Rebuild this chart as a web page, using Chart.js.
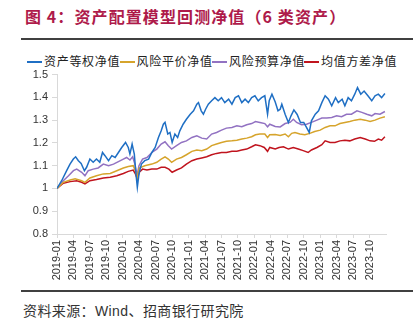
<!DOCTYPE html>
<html><head><meta charset="utf-8">
<script src="https://cdn.jsdelivr.net/npm/chart.js@4.4.0/dist/chart.umd.min.js"></script>
<style>
html,body{margin:0;padding:0;background:#fff;width:419px;height:329px;overflow:hidden;position:relative;}
#title{position:absolute;left:25px;top:6px;font-family:"Noto Sans CJK SC";font-weight:bold;font-size:16px;letter-spacing:1.1px;color:#ae1a4a;white-space:nowrap;line-height:20px;}
.rule{position:absolute;left:21px;width:392px;height:2px;background:#404040;}
#legend{position:absolute;top:53px;left:0;width:419px;height:16px;}
.li{position:absolute;top:0;height:16px;white-space:nowrap;font-family:"Noto Sans CJK SC";font-size:12px;letter-spacing:0.7px;color:#222;line-height:16px;}
.li i{display:inline-block;width:15px;height:2px;vertical-align:middle;margin-right:2px;position:relative;top:-1px;}
#src{position:absolute;left:23px;top:302px;font-family:"Noto Sans CJK SC";font-size:14px;letter-spacing:0.4px;color:#333;white-space:nowrap;line-height:16px;}
#src span{font-family:"Liberation Sans";}
#wrap{position:absolute;left:0;top:64px;width:419px;height:226px;}
</style>
</head><body>
<div id="title">图 4：资产配置模型回测净值（6 类资产）</div>
<div class="rule" style="top:38px"></div>
<div id="legend"></div>
<div id="wrap"><canvas id="c" width="419" height="226"></canvas></div>
<div class="rule" style="top:290px"></div>
<div id="src">资料来源：<span>Wind</span>、招商银行研究院</div>
<script>
// Series names and colours
const seriesNames = ['资产等权净值', '风险平价净值', '风险预算净值', '均值方差净值'];
const seriesColors = ['#1f6fc4', '#d6a42c', '#9272c2', '#c0141e'];

// X positions are months since 2019-01
const xTickLabels = ['2019-01','2019-04','2019-07','2019-10','2020-01','2020-04','2020-07','2020-10',
  '2021-01','2021-04','2021-07','2021-10','2022-01','2022-04','2022-07','2022-10',
  '2023-01','2023-04','2023-07','2023-10'];

// 资产等权净值
const eqMonths = [0,0.85,1.76,2.37,2.98,3.4,3.9,4.4,5.0,5.4,6.0,6.6,7.2,7.8,8.3,8.75,9.4,10.0,10.6,11.2,11.8,12.5,13.0,13.3,13.7,14.1,14.4,14.65,14.95,15.4,16.0,16.7,17.3,17.9,18.5,19.0,19.4,19.7,20.2,20.6,21.0,21.5,22.0,22.4,23.0,23.6,24.3,24.9,25.5,25.8,26.3,26.7,27.1,27.6,28.2,28.8,29.4,30.0,30.6,31.3,31.9,32.5,33.1,33.7,34.3,34.9,35.5,36.1,36.7,37.3,37.9,38.4,38.7,39.2,39.8,40.3,40.7,41.0,41.6,42.2,42.7,43.2,43.8,44.4,45.0,45.5,46.0,46.4,47.1,47.7,48.3,48.9,49.5,50.1,50.8,51.3,52.0,52.5,53.1,53.7,54.3,54.8,55.4,56.0,56.7,57.4,58.0,58.6,59.2,59.8];
const eqValues = [1.000,1.034,1.078,1.107,1.129,1.139,1.122,1.110,1.078,1.093,1.129,1.115,1.129,1.115,1.158,1.144,1.122,1.144,1.136,1.158,1.180,1.202,1.180,1.151,1.195,1.151,1.064,1.005,1.064,1.107,1.122,1.129,1.158,1.180,1.224,1.253,1.282,1.290,1.239,1.246,1.202,1.239,1.224,1.253,1.282,1.304,1.326,1.341,1.370,1.377,1.341,1.326,1.348,1.370,1.385,1.399,1.385,1.399,1.377,1.392,1.370,1.399,1.407,1.377,1.392,1.377,1.399,1.407,1.385,1.399,1.407,1.326,1.385,1.414,1.380,1.341,1.348,1.370,1.326,1.290,1.320,1.345,1.325,1.290,1.290,1.268,1.246,1.297,1.326,1.341,1.377,1.407,1.392,1.363,1.399,1.377,1.392,1.363,1.399,1.385,1.414,1.443,1.414,1.428,1.407,1.385,1.407,1.414,1.399,1.417];

// 风险平价净值
const rpMonths = [0,1.15,2.4,3.3,4.5,5.1,6.0,7.2,8.45,9.7,10.9,12.1,13.0,13.9,14.3,14.65,15.0,16.0,17.3,18.2,19.0,19.7,20.3,20.9,21.8,22.7,23.6,24.6,25.5,26.4,27.3,28.2,29.1,30.0,30.9,31.9,32.8,33.7,34.6,35.5,36.2,37.0,37.9,38.4,38.8,39.8,40.7,41.6,42.2,42.8,43.4,44.3,45.2,46.1,47.0,48.0,48.9,49.8,50.7,51.6,52.5,53.4,54.3,55.3,56.2,57.1,58.0,58.9,59.8];
const rpValues = [1.000,1.027,1.037,1.042,1.034,1.027,1.046,1.056,1.064,1.066,1.078,1.090,1.096,1.100,1.078,1.049,1.090,1.100,1.107,1.115,1.129,1.139,1.129,1.115,1.129,1.136,1.148,1.163,1.169,1.166,1.173,1.188,1.195,1.202,1.207,1.209,1.212,1.217,1.221,1.227,1.236,1.239,1.239,1.224,1.236,1.237,1.233,1.239,1.227,1.242,1.246,1.239,1.236,1.242,1.250,1.256,1.268,1.275,1.275,1.285,1.290,1.294,1.300,1.304,1.300,1.294,1.300,1.309,1.315];

// 风险预算净值
const rbMonths = [0,1.15,2.1,3.0,3.6,4.5,5.1,5.7,6.6,7.5,8.45,9.4,10.3,11.2,12.1,12.7,13.3,13.8,14.2,14.6,14.95,15.6,16.4,17.3,18.2,19.0,19.7,20.3,20.9,21.8,22.7,23.6,24.6,25.5,26.4,27.3,28.2,29.1,30.0,30.9,31.9,32.8,33.7,34.6,35.5,36.2,37.0,37.9,38.4,38.8,39.8,40.7,41.6,42.5,43.1,43.7,44.6,45.5,46.4,47.4,48.3,49.2,50.1,51.0,51.9,52.8,53.7,54.7,55.6,56.5,57.4,58.0,58.9,59.8];
const rbValues = [1.000,1.034,1.056,1.078,1.085,1.071,1.056,1.078,1.085,1.090,1.107,1.100,1.107,1.118,1.129,1.136,1.125,1.139,1.107,1.056,1.100,1.129,1.136,1.158,1.173,1.195,1.205,1.188,1.173,1.188,1.202,1.209,1.224,1.231,1.221,1.217,1.239,1.246,1.256,1.265,1.268,1.275,1.271,1.280,1.285,1.294,1.290,1.285,1.271,1.282,1.272,1.270,1.285,1.290,1.304,1.290,1.280,1.282,1.290,1.300,1.309,1.309,1.312,1.319,1.315,1.326,1.326,1.341,1.334,1.326,1.319,1.329,1.326,1.338];

// 均值方差净值
const mvMonths = [0,1.15,2.4,3.6,4.5,5.1,6.0,7.2,8.45,9.7,10.9,12.1,13.0,13.9,14.3,14.65,15.0,15.6,16.4,17.3,18.2,19.0,19.7,20.4,21.0,21.8,22.7,23.6,24.6,25.5,26.4,27.3,28.2,29.1,30.0,30.9,31.9,32.8,33.7,34.6,35.5,36.2,37.0,37.8,38.4,38.8,39.8,40.5,41.3,42.2,43.1,44.0,44.9,45.8,46.4,47.4,48.3,48.9,49.8,50.7,51.6,52.5,53.4,54.3,55.3,56.2,57.1,57.9,58.6,59.2,59.8];
const mvValues = [1.000,1.023,1.030,1.034,1.027,1.020,1.034,1.039,1.046,1.049,1.056,1.066,1.075,1.081,1.064,1.042,1.071,1.085,1.081,1.085,1.085,1.093,1.093,1.085,1.071,1.081,1.090,1.107,1.122,1.129,1.134,1.139,1.148,1.154,1.158,1.158,1.163,1.163,1.169,1.173,1.183,1.192,1.188,1.180,1.163,1.180,1.173,1.180,1.183,1.173,1.180,1.173,1.166,1.158,1.169,1.180,1.192,1.209,1.202,1.202,1.209,1.212,1.209,1.217,1.224,1.217,1.209,1.207,1.217,1.212,1.227];

const seriesMonths = [eqMonths, rpMonths, rbMonths, mvMonths];
const seriesValues = [eqValues, rpValues, rbValues, mvValues];

// HTML legend
const legendX = [27, 119.5, 212, 304];
const leg = document.getElementById('legend');
seriesNames.forEach((n, i) => {
  const d = document.createElement('div');
  d.className = 'li';
  d.style.left = legendX[i] + 'px';
  d.innerHTML = '<i style="background:' + seriesColors[i] + '"></i>' + n;
  leg.appendChild(d);
});

const datasets = seriesNames.map((n, i) => ({
  label: n,
  data: seriesMonths[i].map((m, j) => ({x: m, y: seriesValues[i][j]})),
  borderColor: seriesColors[i],
  backgroundColor: seriesColors[i],
  borderWidth: 1.5,
  pointRadius: 0,
  tension: 0,
  fill: false
}));

const axisColor = '#d9d9d9';
new Chart(document.getElementById('c'), {
  type: 'line',
  data: {datasets: datasets},
  options: {
    responsive: false,
    animation: false,
    layout: {padding: {top: 10, right: 33, bottom: 0, left: 0}},
    plugins: {legend: {display: false}, tooltip: {enabled: false}},
    scales: {
      x: {
        type: 'linear', min: 0, max: 60,
        afterBuildTicks: s => { s.ticks = xTickLabels.map((_, i) => ({value: i * 3})); },
        afterFit: s => { s.height = 56; },
        ticks: {
          autoSkip: false, maxRotation: 90, minRotation: 90, padding: 2,
          font: {size: 11, family: 'Liberation Sans'}, color: '#333',
          callback: v => xTickLabels[Math.round(v / 3)]
        },
        grid: {drawOnChartArea: false, tickLength: 4, color: axisColor},
        border: {color: axisColor}
      },
      y: {
        min: 0.8, max: 1.5,
        afterFit: s => { s.width = 57; },
        ticks: {
          stepSize: 0.1, padding: 4,
          font: {size: 11, family: 'Liberation Sans'}, color: '#333',
          callback: v => String(Number(v.toFixed(1)))
        },
        grid: {drawOnChartArea: false, tickLength: 5, color: axisColor},
        border: {color: axisColor}
      }
    }
  }
});
</script>
</body></html>
